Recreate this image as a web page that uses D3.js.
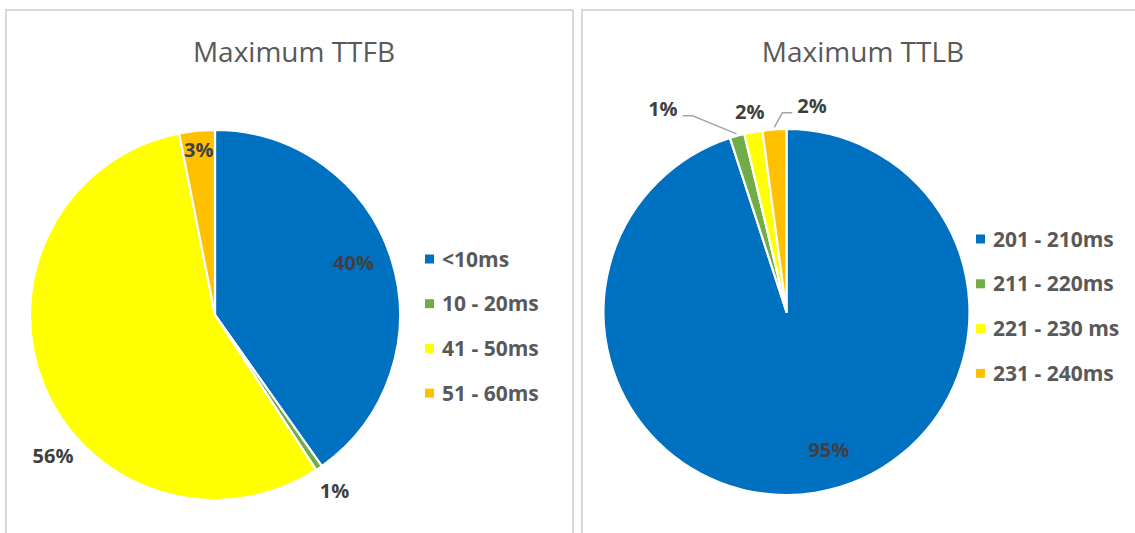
<!DOCTYPE html>
<html><head><meta charset="utf-8">
<script src="https://cdn.jsdelivr.net/npm/d3@7"></script>
<style>body{margin:0;background:#fff} svg{display:block}</style>
</head><body>
<svg id="c" width="1135" height="533"></svg>
<script>
// ---- data ----
const ttfbTitle = "Maximum TTFB";
const ttfbCategories = ["<10ms", "10 - 20ms", "41 - 50ms", "51 - 60ms"];
const ttfbValues = [40.2, 0.6, 56.1, 3.1];
const ttlbTitle = "Maximum TTLB";
const ttlbCategories = ["201 - 210ms", "211 - 220ms", "221 - 230 ms", "231 - 240ms"];
const ttlbValues = [95.0, 1.3, 1.6, 2.1];
const sliceColors = ["#0070C0", "#70AD47", "#FFFF00", "#FFC000"];

// ---- layout (not data) ----
const deg = Math.PI / 180;
const panels = [
  { title: ttfbTitle, cats: ttfbCategories, vals: ttfbValues,
    box: [6, 10, 567, 560], titleX: 294, cx: 215, cy: 315, r: 185,
    legendX: 425, legendY: 259, legendStep: 44.7,
    labels: [{a: 69.4, f: 0.8}, {a: null, f: 1.15}, {a: 229, f: 1.16}, {a: null, f: 0.9}] },
  { title: ttlbTitle, cats: ttlbCategories, vals: ttlbValues,
    box: [582, 10, 580, 560], titleX: 863, cx: 786.5, cy: 312, r: 183,
    legendX: 976, legendY: 239, legendStep: 44.8,
    labels: [{a: 163, f: 0.79}, {a: 328.7, f: 1.3, leader: "left"}, {a: null, f: 1.11}, {a: 7.05, f: 1.135, leader: "right"}] }
];

const svg = d3.select("#c");
const color = d3.scaleOrdinal().range(sliceColors);
const fmt = d3.format(".0%");

panels.forEach(p => {
  const g = svg.append("g");
  g.append("rect").attr("x", p.box[0]).attr("y", p.box[1]).attr("width", p.box[2]).attr("height", p.box[3])
    .attr("fill", "#fff").attr("stroke", "#d9d9d9").attr("stroke-width", 2);
  g.append("text").attr("x", p.titleX).attr("y", 62).attr("text-anchor", "middle")
    .attr("font-family", "'Open Sans', sans-serif").attr("font-size", 28).attr("fill", "#595959")
    .text(p.title);

  const total = d3.sum(p.vals);
  const pie = d3.pie().sort(null).value(d => d)(p.vals);
  color.domain(p.cats);
  const arc = d3.arc().innerRadius(0).outerRadius(p.r);
  const pg = g.append("g").attr("transform", `translate(${p.cx},${p.cy})`);
  pg.selectAll("path").data(pie).join("path")
    .attr("d", arc).attr("fill", (d, i) => color(p.cats[i]))
    .attr("stroke", "#fff").attr("stroke-width", 2.2).attr("stroke-linejoin", "round");

  pie.forEach((d, i) => {
    const L = p.labels[i];
    const mid = (d.startAngle + d.endAngle) / 2;
    const ang = L.a === null ? mid : L.a * deg;
    const rr = p.r * L.f;
    const x = Math.sin(ang) * rr, y = -Math.cos(ang) * rr;
    const t = pg.append("text").attr("x", x).attr("y", y).attr("dy", "0.36em")
      .attr("text-anchor", "middle")
      .attr("font-family", "'Open Sans', sans-serif").attr("font-weight", "bold")
      .attr("font-size", 20).attr("fill", "#404040")
      .text(fmt(d.value / total));
    if (L.leader) {
      const bb = t.node().getBBox();
      const ly = y + 7;
      const ex = L.leader === "left" ? bb.x + bb.width + 5 : bb.x - 5;
      const kx = L.leader === "left" ? ex + 10 : ex - 10;
      const px = Math.sin(mid) * (p.r + 2), py = -Math.cos(mid) * (p.r + 2);
      pg.insert("polyline", "text").attr("points", `${ex},${ly} ${kx},${ly} ${px},${py}`)
        .attr("fill", "none").attr("stroke", "#a6a6a6").attr("stroke-width", 1.5);
    }
  });

  const lg = g.append("g");
  p.cats.forEach((c, i) => {
    const yy = p.legendY + i * p.legendStep;
    lg.append("rect").attr("x", p.legendX).attr("y", yy - 4.5).attr("width", 9).attr("height", 9)
      .attr("fill", color(c));
    lg.append("text").attr("x", p.legendX + 17).attr("y", yy).attr("dy", "0.36em")
      .attr("font-family", "'Open Sans', sans-serif").attr("font-weight", "bold")
      .attr("font-size", 21).attr("fill", "#595959").text(c);
  });
});
</script>
</body></html>
